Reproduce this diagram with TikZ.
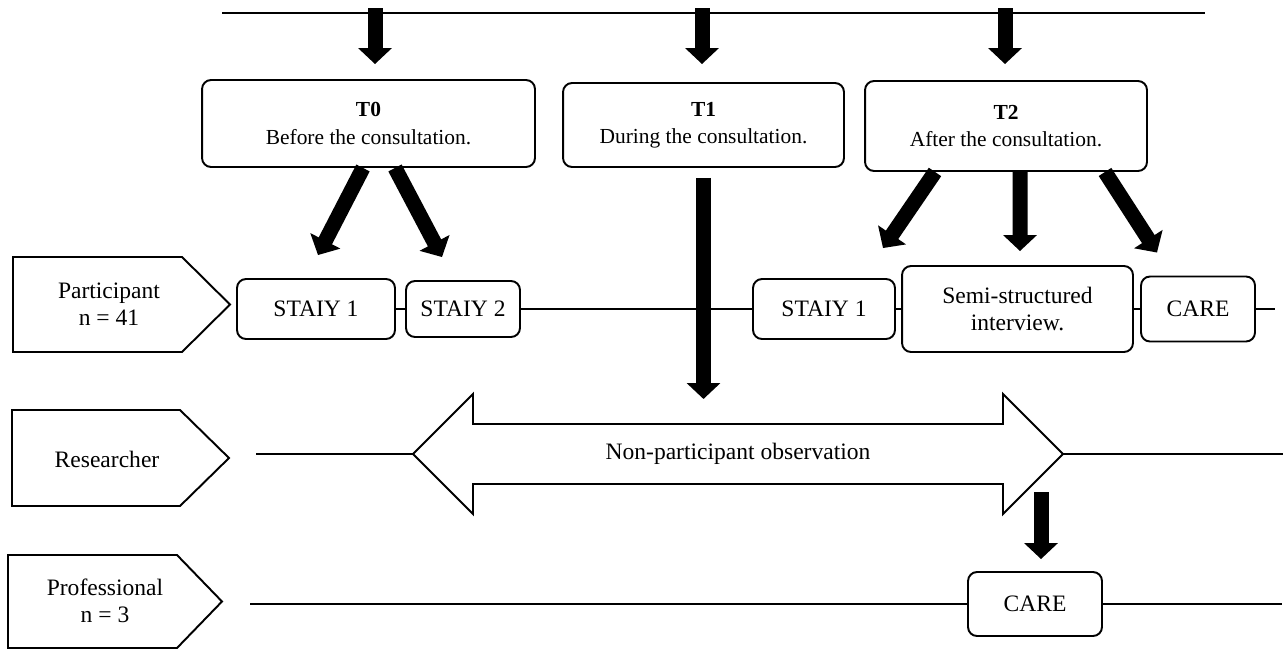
\documentclass[tikz,border=0pt]{standalone}
\usepackage{fontspec}
\setmainfont{Liberation Serif}
\usetikzlibrary{positioning,arrows.meta,calc}

\begin{document}
\begin{tikzpicture}[
    x=0.02cm, y=-0.02cm,
    font=\fontsize{13.4}{15.5}\selectfont,
    box/.style={draw, line width=1.1pt, rounded corners=0.18cm, fill=white,
                align=center, inner sep=2pt},
    tbox/.style={box, font=\fontsize{12.2}{15.5}\selectfont},
    lane/.style={draw, line width=1.1pt, line join=miter},
    rail/.style={line width=1.1pt},
    blk/.style={line width=0.3cm, -{Triangle[width=0.66cm,length=0.32cm]}},
  ]
  \useasboundingbox (0,0) rectangle (1283,652);

  % time line and the three moments
  \coordinate (topL) at (222,13);
  \coordinate (topR) at (1205,13);
  \draw[rail] (topL) -- (topR);

  \node[tbox, minimum width=6.66cm, minimum height=1.74cm] (t0) at (368.5,123.5)
    {\textbf{T0}\\Before the consultation.};
  \node[tbox, minimum width=5.62cm, minimum height=1.68cm] (t1) at (703.5,125)
    {\textbf{T1}\\During the consultation.};
  \node[tbox, minimum width=5.64cm, minimum height=1.80cm] (t2) at (1006,126)
    {\textbf{T2}\\After the consultation.};

  % lanes
  \draw[lane] (13,257) -- (182,257) -- (230,304.5) -- (182,352) -- (13,352) -- cycle;
  \node[align=center] (part) at (109,304) {Participant\\n = 41};
  \draw[lane] (12,410) -- (180,410) -- (229,458) -- (180,506) -- (12,506) -- cycle;
  \node (res) at (107,459) {Researcher};
  \draw[lane] (8,555) -- (177,555) -- (222,601.5) -- (177,648) -- (8,648) -- cycle;
  \node[align=center] (prof) at (105,601) {Professional\\n = 3};

  % participant
  \node[box, minimum width=3.16cm, minimum height=1.2cm] (s1) at (316,309) {STAIY 1};
  \node[box, minimum width=2.28cm, minimum height=1.12cm] (s2) at (463,309) {STAIY 2};
  \node[box, minimum width=2.84cm, minimum height=1.2cm] (s3) at (824,309) {STAIY 1};
  \node[box, minimum width=4.62cm, minimum height=1.72cm] (semi) at (1017.5,309)
    {Semi-structured\\interview.};
  \node[box, minimum width=2.28cm, minimum height=1.3cm] (care1) at (1198,309) {CARE};
  \coordinate (pend) at (1275,309);
  \draw[rail] (s1) -- (s2);
  \draw[rail] (s2) -- (s3);
  \draw[rail] (s3) -- (semi);
  \draw[rail] (semi) -- (care1);
  \draw[rail] (care1) -- (pend);

  % researcher
  \coordinate (obsL) at (413,454);
  \coordinate (obsR) at (1063,454);
  \draw[lane] (obsL) -- (473,394) -- (473,424) -- (1003,424) -- (1003,394) -- (obsR)
    -- (1003,514) -- (1003,484) -- (473,484) -- (473,514) -- cycle;
  \node (obs) at (738,454) {Non-participant observation};
  \coordinate (rstart) at (256,454);
  \coordinate (rend) at (1283,454);
  \draw[rail] (rstart) -- (obsL);
  \draw[rail] (obsR) -- (rend);

  % professional
  \node[box, minimum width=2.68cm, minimum height=1.28cm] (care2) at (1035,604) {CARE};
  \coordinate (qstart) at (250,604);
  \coordinate (qend) at (1282,604);
  \draw[rail] (qstart) -- (care2);
  \draw[rail] (care2) -- (qend);

  % block arrows
  \draw[blk] ($(t0.north)+(6.5,-71)$) -- ($(t0.north)+(6.5,-15)$);
  \draw[blk] ($(t1.north)+(-1.5,-74)$) -- ($(t1.north)+(-1.5,-18)$);
  \draw[blk] ($(t2.north)+(-1,-72)$) -- ($(t2.north)+(-1,-16)$);

  \draw[blk] ($(t0.south)+(-5.5,0)$) -- ($(s1.north)+(2,-23)$);
  \draw[blk] ($(t0.south)+(26.5,0)$) -- ($(s2.north)+(-21,-23)$);

  \draw[blk] ($(t1.south)+(0,10)$) -- ($(t1.south |- obs.center)+(0,-55)$);

  \draw[blk] ($(t2.south)+(-71,0)$) -- ($(s3.north)+(59,-30)$);
  \draw[blk] ($(t2.south)+(14,0)$) -- ($(semi.north)+(2.5,-14)$);
  \draw[blk] ($(t2.south)+(99,0)$) -- ($(care1.north)+(-41,-23)$);

  \draw[blk] ($(care2.north)+(6,-79)$) -- ($(care2.north)+(6,-12)$);
\end{tikzpicture}
\end{document}
